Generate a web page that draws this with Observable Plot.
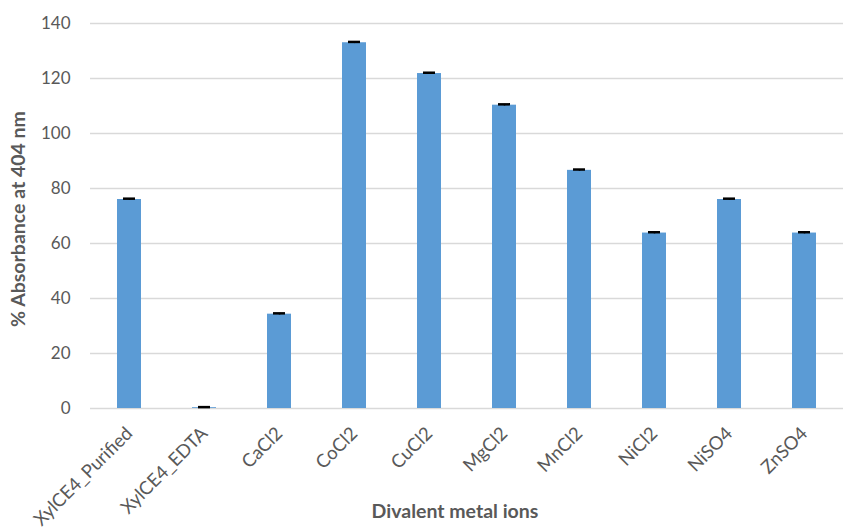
<!DOCTYPE html>
<html>
<head>
<meta charset="utf-8">
<script src="https://cdn.jsdelivr.net/npm/d3@7"></script>
<script src="https://cdn.jsdelivr.net/npm/@observablehq/plot@0.6"></script>
<style>
  html, body { margin: 0; padding: 0; background: #fff; }
</style>
</head>
<body>
<div id="chart"></div>
<script>
const categories = ["XylCE4_Purified", "XylCE4_EDTA", "CaCl2", "CoCl2", "CuCl2", "MgCl2", "MnCl2", "NiCl2", "NiSO4", "ZnSO4"];
const values = [76, 0.3, 34.3, 133, 121.8, 110.3, 86.6, 63.8, 76, 63.8];
const errors = [0.3, 0.2, 0.3, 0.3, 0.3, 0.3, 0.3, 0.3, 0.3, 0.3];
const yTicks = [0, 20, 40, 60, 80, 100, 120, 140];
const yTitle = "% Absorbance at 404 nm";
const xTitle = "Divalent metal ions";

const data = categories.map((c, i) => ({ cat: c, v: values[i], e: errors[i] }));
const textColor = "#595959";

const chart = Plot.plot({
  width: 843,
  height: 530,
  marginLeft: 90,
  marginRight: 0,
  marginTop: 23,
  marginBottom: 122,
  style: { fontFamily: "Lato, 'Open Sans', sans-serif", color: textColor, background: "#fff" },
  x: { domain: categories, paddingInner: 0.68, paddingOuter: 0.34, label: null },
  y: { domain: [0, 140], label: null },
  marks: [
    Plot.gridY(yTicks, { stroke: "#d9d9d9", strokeOpacity: 1, strokeWidth: 1.5 }),
    Plot.barY(data, { x: "cat", y: "v", fill: "#5b9bd5" }),
    Plot.ruleX(data, { x: "cat", y1: d => d.v - d.e, y2: d => d.v + d.e, stroke: "#000", strokeWidth: 1.5 }),
    Plot.tickY(data, { x: "cat", y: d => d.v + d.e, stroke: "#000", strokeWidth: 2.5, insetLeft: 6, insetRight: 6 }),
    Plot.axisY(yTicks, { tickSize: 0, tickPadding: 20, fontSize: 17, fill: textColor, label: null }),
    Plot.axisX({ tickSize: 0, tickPadding: 22, tickRotate: -45, fontSize: 18.5, fill: textColor, label: null }),
    Plot.text([yTitle], { frameAnchor: "left", textAnchor: "middle", dx: -72, dy: 3, rotate: -90, fontWeight: "bold", fontSize: 19.5, fill: textColor }),
    Plot.text([xTitle], { frameAnchor: "bottom", dy: 109, dx: -12, fontWeight: "bold", fontSize: 19.5, fill: textColor })
  ]
});
document.getElementById("chart").appendChild(chart);
</script>
</body>
</html>
